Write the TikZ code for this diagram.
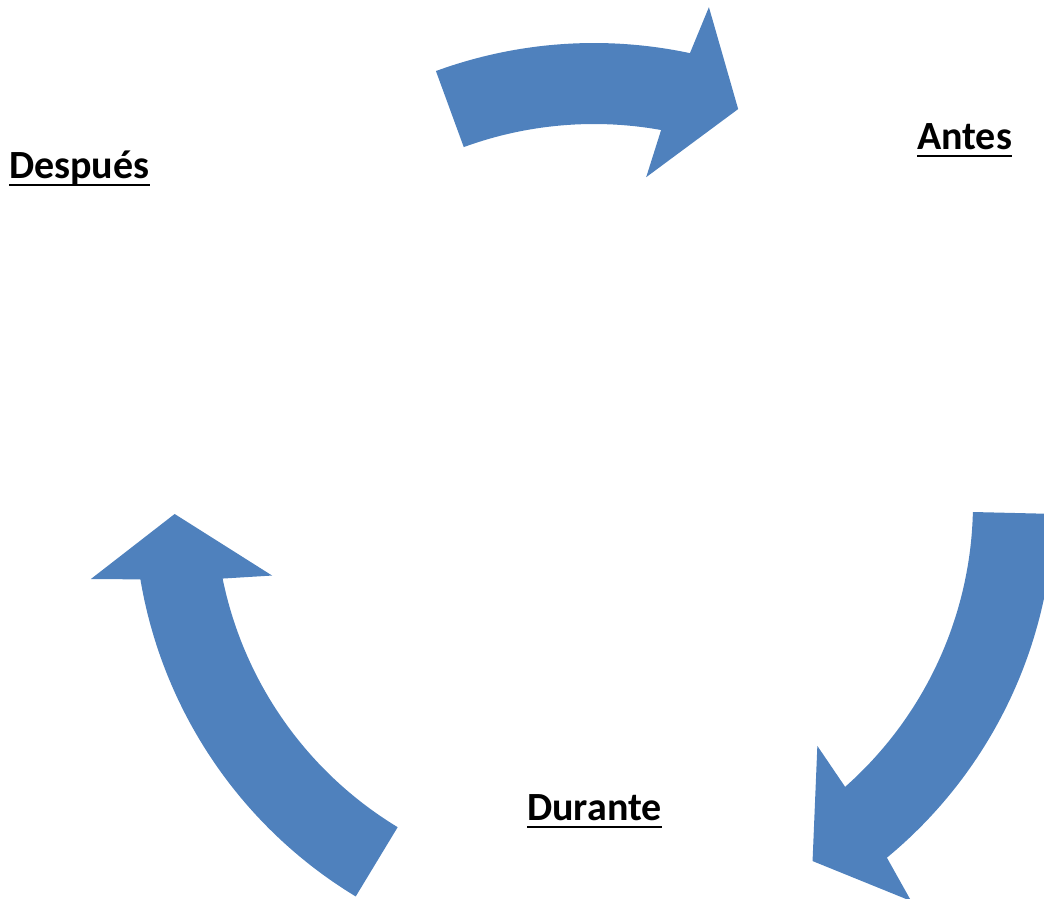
\documentclass[tikz,border=0pt]{standalone}
\usepackage{fontspec}
\setmainfont{Carlito}
\definecolor{arrowblue}{HTML}{4F81BD}
\tikzset{
  cyclearrow/.style={fill=arrowblue, draw=none},
  steplabel/.style={inner sep=0pt, anchor=base west, font=\fontsize{40}{48}\selectfont\bfseries},
  uline/.style={line width=2.6pt, black}
}
\begin{document}
\begin{tikzpicture}[x=1pt,y=-1pt]
\useasboundingbox (0,0) rectangle (1044,898);
\begin{scope}
\clip (0,0) rectangle (1044,898);
\begin{scope}[shift={(594,503)}]
% top arrow (Despues -> Antes)
\fill[cyclearrow] plot[domain=-110.1:-77.96, samples=80] (\x:460)
  -- (-76.95:509) -- (-69.9:419.5) -- (-80.9:330) -- (-79.8:379)
  -- plot[domain=-79.8:-110.1, samples=80] (\x:379) -- cycle;
% right arrow (Antes -> Durante)
\fill[cyclearrow] plot[domain=1.36:50.45, samples=80] (\x:460)
  -- (51.45:509) -- (58.6:419.5) -- (47.4:330) -- (48.5:379)
  -- plot[domain=48.5:1.36, samples=80] (\x:379) -- cycle;
% left arrow (Durante -> Despues)
\fill[cyclearrow] plot[domain=121.2:170.45, samples=80] (\x:460)
  -- (171.4:509) -- (178.5:419.5) -- (167.3:330) -- (168.5:379)
  -- plot[domain=168.5:121.2, samples=80] (\x:379) -- cycle;
\end{scope}
\end{scope}
\node[steplabel] (antes) at (917,149) {Antes};
\node[steplabel] (despues) at (9,178) {Después};
\node[steplabel] (durante) at (527,820) {Durante};
\draw[uline] ([yshift=-7]antes.base west) -- ([yshift=-7]antes.base east);
\draw[uline] ([yshift=-7]despues.base west) -- ([yshift=-7]despues.base east);
\draw[uline] ([yshift=-7]durante.base west) -- ([yshift=-7]durante.base east);
\end{tikzpicture}
\end{document}
